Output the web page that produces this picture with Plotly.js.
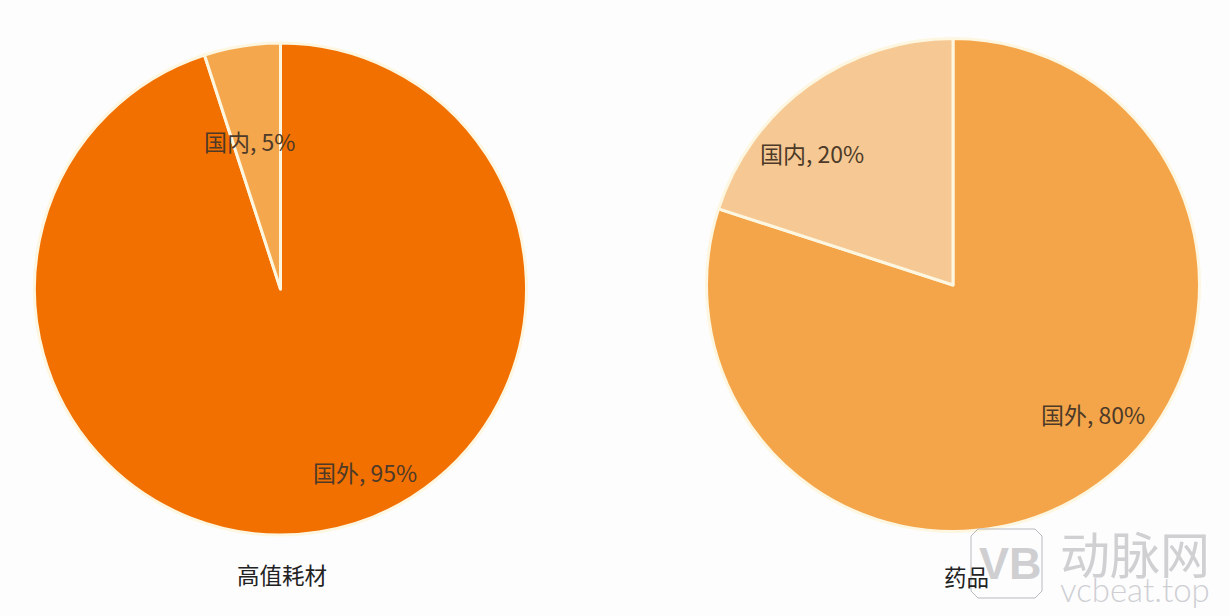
<!DOCTYPE html>
<html><head><meta charset="utf-8">
<script src="https://cdn.plot.ly/plotly-3.0.0.min.js"></script>
<style>html,body{margin:0;padding:0;background:#fdfdfe}</style></head>
<body><div id="c" style="width:1230px;height:616px"></div>
<script>
const categories = ['国外','国内'];
const leftValues = [95,5];
const rightValues = [80,20];
const leftName = '高值耗材';
const rightName = '药品';
const W=1230,H=616;
function dom(cx,cy,r){return {x:[(cx-r)/W,(cx+r)/W],y:[1-(cy+r)/H,1-(cy-r)/H]};}
const common={type:'pie',labels:categories,sort:false,direction:'clockwise',rotation:0,
 textinfo:'none',hoverinfo:'skip'};
const data=[
 Object.assign({},common,{values:leftValues,domain:dom(280.5,289,246),
  marker:{colors:['#f27000','#f4a74d'],line:{color:'#fdf6e0',width:3}}}),
 Object.assign({},common,{values:rightValues,domain:dom(953,285,246.5),
  marker:{colors:['#f4a549','#f6c994'],line:{color:'#fdf6e0',width:3}}})
];
const ff='"Noto Sans CJK SC","Noto Sans",sans-serif';
function lab(x,y,t,size,col,fam,weight){return {xref:'paper',yref:'paper',x:x/W,y:1-y/H,text:t,showarrow:false,
 xanchor:'center',yanchor:'middle',font:{size:size,color:col,family:fam||ff,weight:weight||400}};}
const layout={width:W,height:H,margin:{l:0,r:0,t:0,b:0},paper_bgcolor:'#fdfdfe',showlegend:false,
 shapes:[{type:'path',xref:'paper',yref:'paper',
  path:'M '+[[978,529],[1035,529],[1042,536],[1042,591],[1035,598],[978,598],[971,591],[971,536]].map(p=>(p[0]/W)+' '+(1-p[1]/H)).join(' L ')+' Z',
  line:{color:'#b9b9bd',width:1},fillcolor:'rgba(0,0,0,0)'}],
 annotations:[
  lab(1011,563,'VB',45,'#cfcfd2','"Liberation Sans"',700),
  lab(1135,552,'动脉网',50,'#d0d0d3'),
  lab(1135,589,'vcbeat.top',33,'#cfcfd3','Lato',300),
  lab(249.5,141,categories[1]+', '+leftValues[1]+'%',23,'#4d3a28'),
  lab(364.5,472,categories[0]+', '+leftValues[0]+'%',23,'#4d3a28'),
  lab(812,153,categories[1]+', '+rightValues[1]+'%',23,'#4d3a28'),
  lab(1093,414,categories[0]+', '+rightValues[0]+'%',23,'#4d3a28'),
  lab(282,574,leftName,22.5,'#222222'),
  lab(966,576,rightName,22.5,'#222222')
 ]};
Plotly.newPlot('c',data,layout,{displayModeBar:false,staticPlot:true});
</script></body></html>
